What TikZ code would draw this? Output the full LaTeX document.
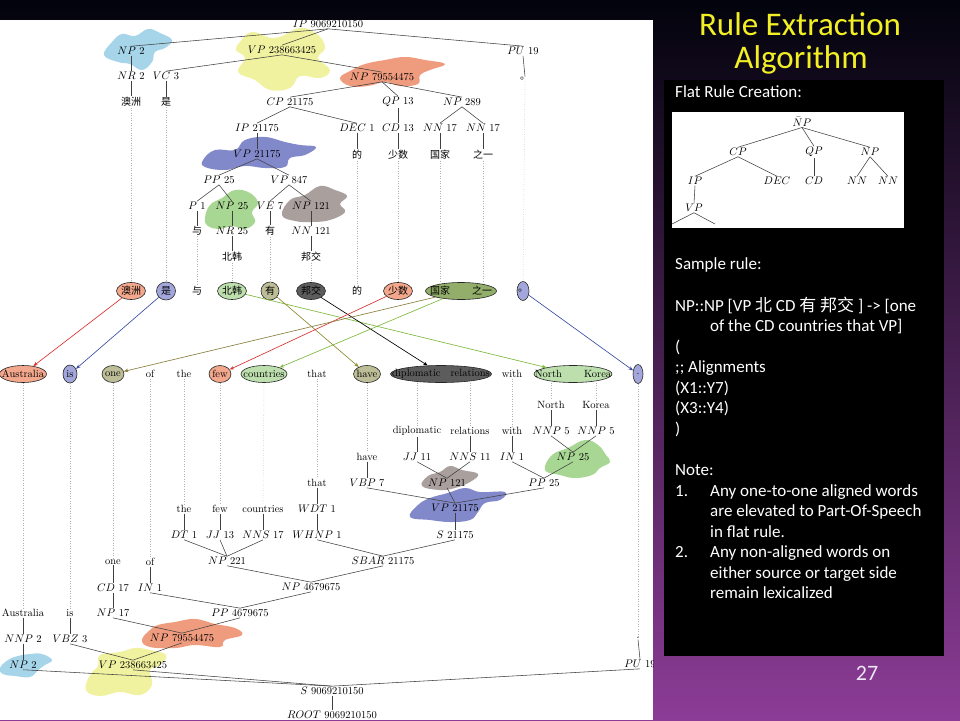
\documentclass[tikz,border=0pt]{standalone}
\usepackage{fontspec}
\newfontfamily\cjk{Noto Sans CJK SC}
\newfontfamily\carl{Carlito}
\usetikzlibrary{shapes.geometric,arrows.meta}
\definecolor{bgtop}{HTML}{02030C}
\definecolor{bgmid}{HTML}{1A20BE}
\definecolor{bgbot}{HTML}{8C3C96}
\definecolor{ttl}{HTML}{F2F024}
\definecolor{pgnum}{HTML}{EDE6F5}
\definecolor{bBlue}{HTML}{A6D5EA}
\definecolor{bYellow}{HTML}{F1F2A0}
\definecolor{bSalmon}{HTML}{EE9B7E}
\definecolor{bPeri}{HTML}{8289CA}
\definecolor{bGreen}{HTML}{A8D693}
\definecolor{bTaupe}{HTML}{A99F9D}
\definecolor{eSalmon}{HTML}{F3A78C}
\definecolor{ePeri}{HTML}{A3A6DA}
\definecolor{eGreen}{HTML}{BCDFAD}
\definecolor{eOlive}{HTML}{BDBD98}
\definecolor{eDark}{HTML}{5C5C5C}
\definecolor{eOliveG}{HTML}{93AD6A}
\definecolor{aRed}{HTML}{D93030}
\definecolor{aBlue}{HTML}{3B4DA3}
\definecolor{aGreen}{HTML}{7DB93B}
\definecolor{aOlive}{HTML}{8C8A32}
\definecolor{aBrown}{HTML}{8A7F3E}
\begin{document}
\begin{tikzpicture}[x=1pt,y=-1pt,
  lab/.style={font=\fontsize{10.5}{12}\selectfont, inner sep=0.8pt},
  zh/.style={font=\cjk\fontsize{10}{12}\selectfont, inner sep=0.8pt},
  tedge/.style={draw=black!75, line width=0.55pt},
  dline/.style={draw=black!30, dotted, line width=0.5pt},
  al/.style={ellipse, draw=black!85, line width=0.6pt, inner xsep=-40pt, inner ysep=-20pt, minimum height=17pt},
  alarr/.style={line width=0.65pt, -{Stealth[length=4.5pt,width=3.5pt]}},
  pan/.style={font=\carl\fontsize{17}{20}\selectfont, text=white, anchor=base west, inner sep=0pt},
  st/.style={font=\fontsize{10.5}{12}\selectfont, inner sep=0.8pt},
  blob/.style={smooth cycle, tension=0.7}]
\useasboundingbox (0,0) rectangle (960,720);
\shade[top color=bgtop, middle color=bgmid, bottom color=bgbot] (0,0) rectangle (960,720);
\fill[white] (0,20) rectangle (653,720);
\begin{scope}
\clip (0,20) rectangle (653,720);
% ---------- blobs (top tree) ----------
\fill[bBlue] plot[blob] coordinates {(104,55) (112,42) (122,34) (135,36) (148,29) (160,33) (172,40) (165,48) (155,52) (152,62) (142,70) (130,64) (118,62)};
\fill[bYellow] plot[blob] coordinates {(240,42) (252,32) (275,38) (300,28) (318,35) (325,48) (318,58) (330,70) (320,78) (300,76) (290,88) (270,90) (255,80) (238,72) (245,58) (236,50)};
\fill[bSalmon] plot[blob] coordinates {(340,78) (352,70) (365,64) (385,60) (405,57) (425,60) (445,64) (430,70) (420,75) (418,84) (400,86) (385,82) (368,86) (350,86)};
\fill[bPeri] plot[blob] coordinates {(203,160) (215,150) (235,150) (245,140) (265,137) (285,142) (300,145) (316,147) (305,155) (290,158) (285,167) (265,168) (245,166) (225,170) (205,167)};
\fill[bGreen] plot[blob] coordinates {(205,218) (210,205) (222,198) (235,190) (250,193) (258,203) (252,212) (255,222) (245,229) (232,226) (220,229) (208,226)};
\fill[bTaupe] plot[blob] coordinates {(282,215) (290,200) (305,195) (320,186) (335,190) (347,196) (340,204) (345,212) (330,220) (312,222) (295,221)};
% ---------- blobs (bottom tree) ----------
\fill[bBlue] plot[blob] coordinates {(0,668) (8,660) (18,656) (30,654) (42,654) (52,660) (45,665) (38,670) (30,677) (15,676) (3,674)};
\fill[bYellow] plot[blob] coordinates {(100,655) (120,652) (135,648) (150,650) (166,655) (160,665) (150,670) (152,685) (140,695) (120,692) (100,696) (86,690) (90,675) (98,666)};
\fill[bSalmon] plot[blob] coordinates {(142,640) (150,630) (158,625) (175,622) (195,619) (215,624) (235,628) (242,635) (225,640) (220,647) (195,645) (175,648) (150,647)};
\fill[bGreen] plot[blob] coordinates {(545,470) (552,455) (568,448) (585,440) (598,445) (606,455) (610,462) (600,468) (592,475) (575,478) (560,475)};
\fill[bPeri] plot[blob] coordinates {(410,517) (418,505) (430,498) (448,493) (465,488) (480,492) (505,492) (500,500) (485,503) (478,512) (470,520) (450,522) (430,520)};
\fill[bTaupe] plot[blob] coordinates {(422,486) (428,476) (440,472) (450,466) (462,470) (478,474) (470,482) (455,488) (440,490)};
% ---------- top tree ----------
\node[lab] (tIP) at (328,24) {$IP$ 9069210150};
\node[lab] (tNP2) at (131,51) {$NP$ 2};
\node[lab] (tVP) at (282,50) {$VP$ 238663425};
\node[lab] (tPU) at (523,51) {$PU$ 19};
\node[lab] (tNR) at (131,76) {$NR$ 2};
\node[lab] (tVC) at (166,76) {$VC$ 3};
\node[lab] (tNPb) at (382,77) {$NP$ 79554475};
\node[zh] (tpu) at (525,79) {。};
\node[zh] (wAo) at (131,102) {澳洲};
\node[zh] (wShi) at (166,102) {是};
\node[lab] (tCP) at (290,102) {$CP$ 21175};
\node[lab] (tQP) at (398,102) {$QP$ 13};
\node[lab] (tNPc) at (462,102) {$NP$ 289};
\node[lab] (tIPb) at (257,128) {$IP$ 21175};
\node[lab] (tDEC) at (357,128) {$DEC$ 1};
\node[lab] (tCD) at (398,128) {$CD$ 13};
\node[lab] (tNN1) at (440,128) {$NN$ 17};
\node[lab] (tNN2) at (483,128) {$NN$ 17};
\node[zh] (wDe) at (357,155) {的};
\node[zh] (wShao) at (398,155) {少数};
\node[zh] (wGuo) at (440,155) {国家};
\node[zh] (wZhi) at (483,155) {之一};
\node[lab] (tVPb) at (257,154) {$VP$ 21175};
\node[lab] (tPP) at (219,180) {$PP$ 25};
\node[lab] (tVPc) at (289,180) {$VP$ 847};
\node[lab] (tP) at (197,206) {$P$ 1};
\node[lab] (tNPd) at (232,206) {$NP$ 25};
\node[lab] (tVE) at (270,206) {$VE$ 7};
\node[lab] (tNPe) at (311,206) {$NP$ 121};
\node[zh] (wYu) at (197,231) {与};
\node[lab] (tNR25) at (232,231) {$NR$ 25};
\node[zh] (wYou) at (270,231) {有};
\node[lab] (tNN121) at (311,231) {$NN$ 121};
\node[zh] (wBei) at (232,257) {北韩};
\node[zh] (wBang) at (311,257) {邦交};
\foreach \a/\b in {tIP/tNP2,tIP/tVP,tIP/tPU,tNP2/tNR,tNR/wAo,tVP/tVC,tVP/tNPb,tVC/wShi,tPU/tpu,
  tNPb/tCP,tNPb/tQP,tNPb/tNPc,tCP/tIPb,tCP/tDEC,tQP/tCD,tNPc/tNN1,tNPc/tNN2,tDEC/wDe,tCD/wShao,
  tNN1/wGuo,tNN2/wZhi,tIPb/tVPb,tVPb/tPP,tVPb/tVPc,tPP/tP,tPP/tNPd,tVPc/tVE,tVPc/tNPe,tP/wYu,
  tNPd/tNR25,tVE/wYou,tNPe/tNN121,tNR25/wBei,tNN121/wBang}
  \draw[tedge] (\a.south) -- (\b.north);
% ---------- middle rows ----------
\node[zh, al, fill=eSalmon, minimum width=29pt] (mAo) at (131,291) {澳洲};
\node[zh, al, fill=ePeri, minimum width=19pt, minimum height=18pt] (mShi) at (166,291) {是};
\node[zh] (mYu) at (197,291) {与};
\node[zh, al, fill=eGreen, minimum width=29pt] (mBei) at (232,291) {北韩};
\node[zh, al, fill=eOlive, minimum width=18pt, minimum height=18pt] (mYou) at (270,291) {有};
\node[zh, al, fill=eDark, minimum width=29pt] (mBang) at (311,291) {邦交};
\node[zh] (mDe) at (357,291) {的};
\node[zh, al, fill=eSalmon, minimum width=29pt] (mShao) at (398,291) {少数};
\node[zh, al, fill=eOliveG, minimum width=71pt] (mGuo) at (461,291) {国家\hspace{22pt}之一};
\node[zh, al, fill=ePeri, minimum width=12pt, minimum height=19pt] (mPu) at (523,291) {。};
\node[lab, al, fill=eSalmon, minimum width=47pt] (eAus) at (23,374) {Australia};
\node[lab, al, fill=ePeri, minimum width=14pt, minimum height=18pt] (eIs) at (70,374) {is};
\node[lab, al, fill=eOlive, minimum width=22pt] (eOne) at (113,374) {one};
\node[lab] (eOf) at (150,374) {of};
\node[lab] (eThe) at (184,374) {the};
\node[lab, al, fill=eSalmon, minimum width=22pt] (eFew) at (220,374) {few};
\node[lab, al, fill=eGreen, minimum width=46pt] (eCountries) at (264,374) {countries};
\node[lab] (eThat) at (317,374) {that};
\node[lab, al, fill=eOlive, minimum width=27pt] (eHave) at (367,374) {have};
\node[lab, al, fill=eDark, minimum width=101pt] (eDipl) at (441,374) {diplomatic\hspace{10pt}relations};
\node[lab] (eWith) at (512,374) {with};
\node[lab, al, fill=eGreen, minimum width=78pt] (eNK) at (573,374) {North\hspace{22pt}Korea};
\node[lab, al, fill=ePeri, minimum width=10pt, minimum height=19pt] (eDot) at (638,374) {.};
% dotted guides (top)
\foreach \a/\b in {wAo/mAo,wShi/mShi,wYu/mYu,wBei/mBei,wYou/mYou,wBang/mBang,wDe/mDe,wShao/mShao,tpu/mPu}
  \draw[dline] (\a.south) -- (\b.north);
\draw[dline] (wGuo.south) -- (wGuo.south |- mGuo.north);
\draw[dline] (wZhi.south) -- (wZhi.south |- mGuo.north);
% alignment arrows
\draw[alarr, aRed] (mAo) -- (eAus);
\draw[alarr, aBlue] (mShi) -- (eIs);
\draw[alarr, aGreen] (mBei) -- (eNK);
\draw[alarr, aOlive] (mYou) -- (eHave);
\draw[alarr, black] (mBang) -- (eDipl);
\draw[alarr, aRed] (mShao) -- (eFew);
\draw[alarr, aBrown] (mGuo) -- (eOne);
\draw[alarr, aGreen] (mGuo) -- (eCountries);
\draw[alarr, aBlue] (mPu) -- (eDot);
% ---------- bottom tree ----------
\node[lab] (bAus) at (23,613) {Australia};
\node[lab] (bNNP2) at (23,639) {$NNP$ 2};
\node[lab] (bNP2) at (23,665) {$NP$ 2};
\node[lab] (bIs) at (70,613) {is};
\node[lab] (bVBZ) at (70,639) {$VBZ$ 3};
\node[lab] (bOne) at (113,562) {one};
\node[lab] (bCD) at (113,588) {$CD$ 17};
\node[lab] (bNP17) at (113,613) {$NP$ 17};
\node[lab] (bOf) at (150,562) {of};
\node[lab] (bIN) at (150,588) {$IN$ 1};
\node[lab] (bThe) at (184,509) {the};
\node[lab] (bFew) at (220,509) {few};
\node[lab] (bCountries) at (263,509) {countries};
\node[lab] (bThat) at (317,483) {that};
\node[lab] (bDT) at (184,535) {$DT$ 1};
\node[lab] (bJJ) at (220,535) {$JJ$ 13};
\node[lab] (bNNS) at (263,535) {$NNS$ 17};
\node[lab] (bWDT) at (317,509) {$WDT$ 1};
\node[lab] (bWHNP) at (317,535) {$WHNP$ 1};
\node[lab] (bNP221) at (227,561) {$NP$ 221};
\node[lab] (bNP467) at (311,587) {$NP$ 4679675};
\node[lab] (bPP467) at (240,613) {$PP$ 4679675};
\node[lab] (bNP795) at (182,638) {$NP$ 79554475};
\node[lab] (bVP238) at (133,665) {$VP$ 238663425};
\node[lab] (bS) at (332,691) {$S$ 9069210150};
\node[lab] (bROOT) at (332,715) {$ROOT$ 9069210150};
\node[lab] (bHave) at (367,457) {have};
\node[lab] (bVBP) at (367,483) {$VBP$ 7};
\node[lab] (bDipl) at (417,431) {diplomatic};
\node[lab] (bRel) at (470,431) {relations};
\node[lab] (bWith) at (512,431) {with};
\node[lab] (bNorth) at (551,405) {North};
\node[lab] (bKorea) at (596,405) {Korea};
\node[lab] (bJJ11) at (417,457) {$JJ$ 11};
\node[lab] (bNNS11) at (470,457) {$NNS$ 11};
\node[lab] (bIN1) at (512,457) {$IN$ 1};
\node[lab] (bNNP5a) at (551,431) {$NNP$ 5};
\node[lab] (bNNP5b) at (596,431) {$NNP$ 5};
\node[lab] (bNP25) at (573,457) {$NP$ 25};
\node[lab] (bNP121) at (447,483) {$NP$ 121};
\node[lab] (bPP25) at (544,483) {$PP$ 25};
\node[lab] (bVP211) at (455,508) {$VP$ 21175};
\node[lab] (bS211) at (455,535) {$S$ 21175};
\node[lab] (bSBAR) at (383,561) {$SBAR$ 21175};
\node[lab] (bDot) at (638,638) {.};
\node[lab] (bPU) at (640,664) {$PU$ 19};
\foreach \a/\b in {bAus/bNNP2,bNNP2/bNP2,bIs/bVBZ,bOne/bCD,bCD/bNP17,bOf/bIN,bThe/bDT,bFew/bJJ,
  bCountries/bNNS,bThat/bWDT,bWDT/bWHNP,bDT/bNP221,bJJ/bNP221,bNNS/bNP221,bNP221/bNP467,bSBAR/bNP467,
  bIN/bPP467,bNP467/bPP467,bNP17/bNP795,bPP467/bNP795,bVBZ/bVP238,bNP795/bVP238,bNP2/bS,bVP238/bS,
  bPU/bS,bS/bROOT,bHave/bVBP,bDipl/bJJ11,bRel/bNNS11,bWith/bIN1,bNorth/bNNP5a,bKorea/bNNP5b,
  bNNP5a/bNP25,bNNP5b/bNP25,bJJ11/bNP121,bNNS11/bNP121,bIN1/bPP25,bNP25/bPP25,bVBP/bVP211,
  bNP121/bVP211,bPP25/bVP211,bVP211/bS211,bWHNP/bSBAR,bS211/bSBAR,bDot/bPU}
  \draw[tedge] (\a.south) -- (\b.north);
% dotted guides (bottom)
\foreach \a/\b in {eAus/bAus,eIs/bIs,eOne/bOne,eOf/bOf,eThe/bThe,eFew/bFew,eCountries/bCountries,
  eThat/bThat,eHave/bHave,eWith/bWith,eDot/bDot}
  \draw[dline] (\a.south) -- (\b.north);
\draw[dline] (bDipl.north |- eDipl.south) -- (bDipl.north);
\draw[dline] (bRel.north |- eDipl.south) -- (bRel.north);
\draw[dline] (bNorth.north |- eNK.south) -- (bNorth.north);
\draw[dline] (bKorea.north |- eNK.south) -- (bKorea.north);
\end{scope}
% ---------- right panel ----------
\node[font=\carl\fontsize{33}{38}\selectfont, text=ttl, anchor=base, inner sep=0pt] (title1) at (800,35) {Rule Extraction};
\node[font=\carl\fontsize{33}{38}\selectfont, text=ttl, anchor=base, inner sep=0pt] (title2) at (801,68) {Algorithm};
\fill[black] (664,80) rectangle (944,656);
\node[pan] (p1) at (675,97) {Flat Rule Creation:};
\fill[white] (672,112) rectangle (904,228);
\node[st] (sNP) at (802,122) {$\bar{N}P$};
\node[st] (sCP) at (738,152) {$CP$};
\node[st] (sQP) at (814,152) {$QP$};
\node[st] (sNPr) at (870,152) {$NP$};
\node[st] (sIP) at (695,181) {$IP$};
\node[st] (sDEC) at (777,181) {$DEC$};
\node[st] (sCD) at (814,181) {$CD$};
\node[st] (sNN1) at (857,181) {$NN$};
\node[st] (sNN2) at (888,181) {$NN$};
\node[st] (sVP) at (694,208) {$VP$};
\coordinate (sL) at (672,224);
\coordinate (sR) at (715,224);
\foreach \a/\b in {sNP/sCP,sNP/sQP,sNP/sNPr,sCP/sIP,sCP/sDEC,sQP/sCD,sNPr/sNN1,sNPr/sNN2,sIP/sVP}
  \draw[tedge] (\a.south) -- (\b.north);
\draw[tedge] (sVP.south) -- (sL);
\draw[tedge] (sVP.south) -- (sR);
\node[pan] (p2) at (675,269) {Sample rule:};
\node[pan] (p3) at (675,311) {NP::NP [VP {\cjk 北} CD {\cjk 有} {\cjk 邦交} ] -> [one};
\node[pan] (p4) at (710,331.5) {of the CD countries that VP]};
\node[pan] (p5) at (675,352) {(};
\node[pan] (p6) at (675,372.5) {;; Alignments};
\node[pan] (p7) at (675,393) {(X1::Y7)};
\node[pan] (p8) at (675,413.5) {(X3::Y4)};
\node[pan] (p9) at (675,434) {)};
\node[pan] (p10) at (675,475) {Note:};
\node[pan] (n1) at (675,496) {1.};
\node[pan] (p11) at (710,496) {Any one-to-one aligned words};
\node[pan] (p12) at (710,516.5) {are elevated to Part-Of-Speech};
\node[pan] (p13) at (710,537) {in flat rule.};
\node[pan] (n2) at (675,557.5) {2.};
\node[pan] (p14) at (710,557.5) {Any non-aligned words on};
\node[pan] (p15) at (710,578) {either source or target side};
\node[pan] (p16) at (710,598.5) {remain lexicalized};
\node[font=\carl\fontsize{22}{26}\selectfont, text=pgnum, anchor=base, inner sep=0pt] (pg) at (867,680) {27};
\end{tikzpicture}
\end{document}
